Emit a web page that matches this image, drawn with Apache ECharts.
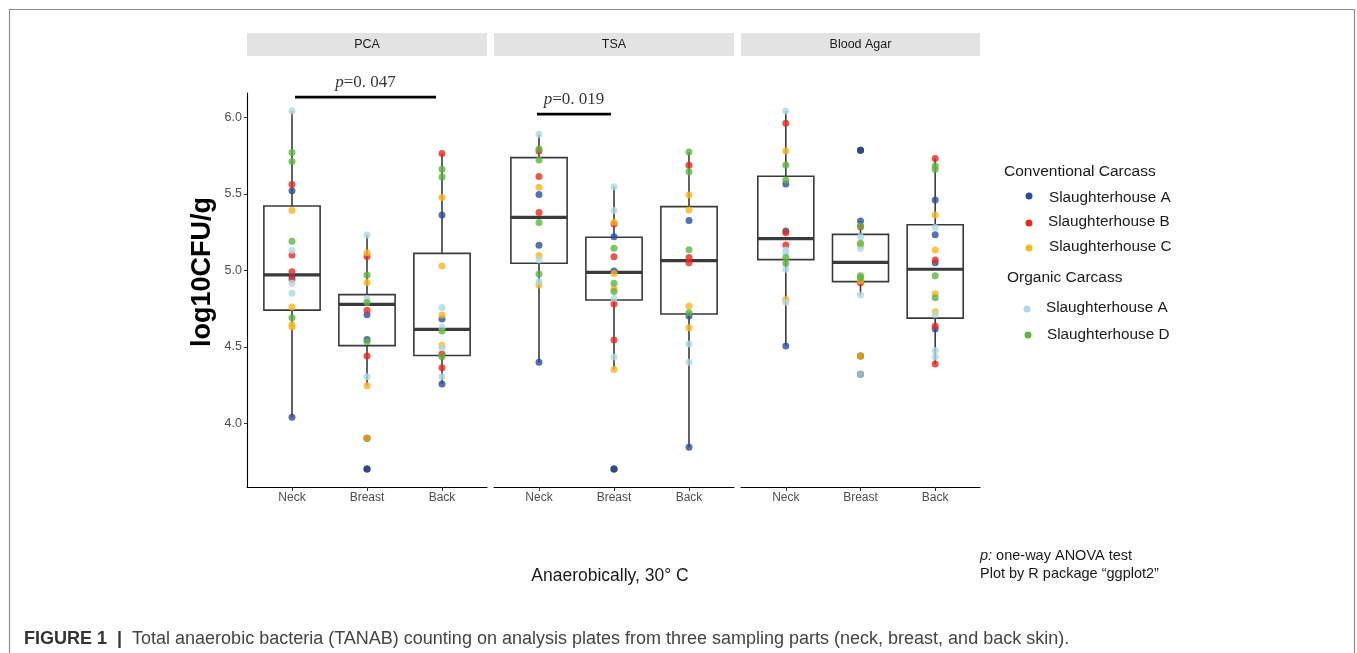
<!DOCTYPE html>
<html>
<head>
<meta charset="utf-8">
<script src="https://cdn.jsdelivr.net/npm/echarts@6/dist/echarts.min.js"></script>
<style>html,body{margin:0;padding:0;background:#fff;}#c{width:1357px;height:653px;}</style>
</head>
<body>
<div id="c"></div>
<script>
// ---------- data ----------
const panels = ['PCA', 'TSA', 'Blood Agar'];
const parts = ['Neck', 'Breast', 'Back'];
const groupNames = ['Conv. Slaughterhouse A', 'Conv. Slaughterhouse B', 'Conv. Slaughterhouse C', 'Org. Slaughterhouse A', 'Org. Slaughterhouse D'];
const groupColors = ['#2D4C9F', '#E8291F', '#FBB41A', '#ADD8E6', '#5DB53E'];
const yTicks = [4.0, 4.5, 5.0, 5.5, 6.0];

// box stats per part: [min, Q1, median, Q3, max]
const pcaBox = [[4.04, 4.74, 4.97, 5.42, 6.04], [4.246, 4.508, 4.778, 4.841, 5.231], [4.257, 4.444, 4.614, 5.111, 5.763]];
const tsaBox = [[4.399, 5.046, 5.346, 5.736, 5.889], [4.353, 4.806, 4.987, 5.216, 5.545], [3.845, 4.715, 5.063, 5.416, 5.773]];
const bloodBox = [[4.505, 5.070, 5.207, 5.614, 6.041], [4.839, 4.926, 5.052, 5.235, 5.322], [4.388, 4.688, 5.007, 5.298, 5.730]];

// outliers per part
const pcaOut = [[], [3.904, 3.702], []];
const tsaOut = [[], [3.702], []];
const bloodOut = [[], [5.784, 4.440, 4.322], []];

// points: per group -> [neck values, breast values, back values]
const pcaConvA = [[5.52, 4.96, 4.04], [4.71, 4.549, 3.702], [5.362, 4.682, 4.257]];
const pcaConvB = [[5.56, 5.10, 4.99, 4.94], [5.09, 4.74, 4.44], [5.763, 4.453, 4.364]];
const pcaConvC = [[5.39, 4.76, 4.645, 4.63], [5.115, 4.92, 4.246, 3.904], [5.475, 5.028, 4.708, 4.51]];
const pcaOrgA = [[6.04, 5.13, 4.915, 4.85], [5.231, 4.815, 4.305], [4.758, 4.627, 4.495, 4.305]];
const pcaOrgD = [[5.77, 5.71, 5.19, 4.69], [4.97, 4.79, 4.534], [5.66, 5.61, 4.603, 4.436]];

const tsaConvA = [[5.495, 5.163, 4.399], [5.22, 4.996, 3.702], [5.325, 4.702, 3.845]];
const tsaConvB = [[5.78, 5.612, 5.377], [5.303, 5.089, 4.78, 4.545], [5.686, 5.083, 5.05]];
const tsaConvC = [[5.542, 5.096, 4.904], [5.314, 4.98, 4.878, 4.353], [5.492, 5.394, 4.767, 4.625]];
const tsaOrgA = [[5.889, 5.068, 4.926], [5.545, 5.39, 4.817, 4.434], [4.519, 4.399]];
const tsaOrgD = [[5.793, 5.721, 5.312, 4.976], [5.144, 4.915, 4.861], [5.773, 5.643, 5.135, 4.723]];

const bloodConvA = [[5.564, 5.257, 4.505], [5.784, 5.322], [5.46, 5.233, 5.05, 4.617]];
const bloodConvB = [[5.961, 5.246, 5.166], [5.285, 4.919], [5.73, 5.068, 4.636, 4.388]];
const bloodConvC = [[5.78, 4.81], [5.161, 4.932, 4.44], [5.362, 5.133, 4.847, 4.73]];
const bloodOrgA = [[6.041, 5.133, 5.115, 5.007, 4.791], [5.22, 5.142, 4.839, 4.322], [5.279, 4.712, 4.477, 4.434]];
const bloodOrgD = [[5.688, 5.59, 5.083, 5.046], [5.29, 5.176, 4.965, 4.952], [5.682, 5.66, 4.965, 4.821]];

// significance brackets: [x start, x end, y, label]
const pcaBracket = [1.04, 2.92, 6.131, '=0. 047'];
const tsaBracket = [0.973, 1.96, 6.02, '=0. 019'];

// ---------- build ----------
const boxes = [pcaBox, tsaBox, bloodBox];
const outs = [pcaOut, tsaOut, bloodOut];
const points = [
  [pcaConvA, pcaConvB, pcaConvC, pcaOrgA, pcaOrgD],
  [tsaConvA, tsaConvB, tsaConvC, tsaOrgA, tsaOrgD],
  [bloodConvA, bloodConvB, bloodConvC, bloodOrgA, bloodOrgD]
];
const brackets = [pcaBracket, tsaBracket, null];

const SANS = 'Liberation Sans, Arial, sans-serif';
const gridLefts = [247, 494, 741];
const gridWidths = [240, 240, 239];
const TOP = 93, HEIGHT = 394;
const YMIN = 3.585, YMAX = 6.158;

const grids = [], xAxes = [], yAxes = [], series = [];
panels.forEach((p, i) => {
  grids.push({ left: gridLefts[i], top: TOP, width: gridWidths[i], height: HEIGHT, containLabel: false });
  xAxes.push({
    type: 'value', gridIndex: i, min: 0.4, max: 3.6,
    axisLine: { show: true, lineStyle: { color: '#000', width: 1.1 } },
    axisTick: { show: true, customValues: [1, 2, 3], length: 4, lineStyle: { color: '#333' } },
    axisLabel: { show: true, customValues: [1, 2, 3], formatter: v => parts[Math.round(v) - 1], color: '#4d4d4d', fontSize: 12, fontFamily: SANS, margin: 5 },
    splitLine: { show: false }
  });
  yAxes.push({
    type: 'value', gridIndex: i, min: YMIN, max: YMAX, show: i === 0,
    axisLine: { show: true, lineStyle: { color: '#000', width: 1.1 } },
    axisTick: { show: true, customValues: yTicks, length: 3, lineStyle: { color: '#333' } },
    axisLabel: { show: true, customValues: yTicks, formatter: v => v.toFixed(1), color: '#4d4d4d', fontSize: 12.5, fontFamily: SANS, margin: 5 },
    splitLine: { show: false }
  });
  // box plots
  series.push({
    type: 'custom', xAxisIndex: i, yAxisIndex: i, z: 2,
    encode: { x: 0, y: [1, 2, 3, 4, 5] },
    data: boxes[i].map((b, k) => [k + 1].concat(b)),
    renderItem: function (params, api) {
      const x = api.value(0);
      const lo = api.coord([x, api.value(1)]);
      const q1 = api.coord([x, api.value(2)]);
      const md = api.coord([x, api.value(3)]);
      const q3 = api.coord([x, api.value(4)]);
      const hi = api.coord([x, api.value(5)]);
      const w = api.size([0.75, 0])[0];
      const st = { stroke: '#3a3a3a', lineWidth: 1.6, fill: null };
      return {
        type: 'group', children: [
          { type: 'line', shape: { x1: lo[0], y1: lo[1], x2: q1[0], y2: q1[1] }, style: st },
          { type: 'line', shape: { x1: q3[0], y1: q3[1], x2: hi[0], y2: hi[1] }, style: st },
          { type: 'rect', shape: { x: q3[0] - w / 2, y: q3[1], width: w, height: q1[1] - q3[1] }, style: { stroke: '#3a3a3a', lineWidth: 1.6, fill: '#fff' } },
          { type: 'line', shape: { x1: md[0] - w / 2, y1: md[1], x2: md[0] + w / 2, y2: md[1] }, style: { stroke: '#3a3a3a', lineWidth: 3.2 } }
        ]
      };
    }
  });
  // outliers (black)
  const od = [];
  outs[i].forEach((arr, k) => arr.forEach(v => od.push([k + 1, v])));
  series.push({
    type: 'scatter', xAxisIndex: i, yAxisIndex: i, z: 3, symbolSize: 7, clip: false,
    itemStyle: { color: '#000' }, data: od, silent: true
  });
  // points per group
  points[i].forEach((g, gi) => {
    const d = [];
    g.forEach((arr, k) => arr.forEach(v => d.push([k + 1, v])));
    series.push({
      type: 'scatter', name: groupNames[gi], xAxisIndex: i, yAxisIndex: i, z: 4 + gi, symbolSize: 7, clip: false,
      itemStyle: { color: groupColors[gi], opacity: 0.8 }, data: d
    });
  });
  // significance bracket
  const br = brackets[i];
  if (br) {
    series.push({
      type: 'line', xAxisIndex: i, yAxisIndex: i, z: 10, symbol: 'none', silent: true,
      lineStyle: { color: '#000', width: 2.8 },
      data: [[br[0], br[2]], [br[1], br[2]]]
    });
    series.push({
      type: 'scatter', xAxisIndex: i, yAxisIndex: i, z: 10, symbolSize: 0, clip: false, silent: true,
      data: [[(br[0] + br[1]) / 2, br[2]]],
      label: {
        show: true, position: 'top', distance: 6,
        formatter: '{a|p}{b|' + br[3] + '}',
        rich: {
          a: { fontFamily: 'Liberation Serif, DejaVu Serif, serif', fontStyle: 'italic', fontSize: 17, color: '#000' },
          b: { fontFamily: 'Liberation Serif, DejaVu Serif, serif', fontSize: 17, color: '#000' }
        }
      }
    });
  }
});

// ---------- decorations ----------
const graphics = [];
graphics.push({ type: 'rect', shape: { x: 9.5, y: 9.5, width: 1345, height: 660 }, style: { fill: null, stroke: '#8c8c8c', lineWidth: 1.2 }, silent: true });
panels.forEach((p, i) => {
  graphics.push({ type: 'rect', shape: { x: gridLefts[i], y: 33, width: gridWidths[i], height: 23 }, style: { fill: '#E3E3E3' } });
  graphics.push({ type: 'text', x: gridLefts[i] + gridWidths[i] / 2, y: 44.5, style: { text: p, fill: '#1a1a1a', font: '12.5px ' + SANS, textAlign: 'center', textVerticalAlign: 'middle' } });
});
graphics.push({ type: 'text', x: 203, y: 272, rotation: Math.PI / 2, style: { text: 'log10CFU/g', fill: '#000', font: 'bold 27px ' + SANS, textAlign: 'center', textVerticalAlign: 'middle' } });

// legend
const legendItems = [
  { head: 'Conventional Carcass', hx: 1004, hy: 172 },
  { dot: 0, label: 'Slaughterhouse A', dx: 1029, dy: 196, tx: 1049, ty: 198 },
  { dot: 1, label: 'Slaughterhouse B', dx: 1029, dy: 223, tx: 1048, ty: 222 },
  { dot: 2, label: 'Slaughterhouse C', dx: 1029, dy: 248, tx: 1049, ty: 247 },
  { head: 'Organic Carcass', hx: 1007, hy: 278 },
  { dot: 3, label: 'Slaughterhouse A', dx: 1027, dy: 309, tx: 1046, ty: 308 },
  { dot: 4, label: 'Slaughterhouse D', dx: 1028, dy: 335, tx: 1047, ty: 335 }
];
legendItems.forEach(it => {
  if (it.head) {
    graphics.push({ type: 'text', x: it.hx, y: it.hy, style: { text: it.head, fill: '#1a1a1a', font: '15.5px ' + SANS, textVerticalAlign: 'middle' } });
  } else {
    graphics.push({ type: 'circle', shape: { cx: it.dx, cy: it.dy, r: 3.5 }, style: { fill: groupColors[it.dot] } });
    graphics.push({ type: 'text', x: it.tx, y: it.ty, style: { text: it.label, fill: '#1a1a1a', font: '15.3px ' + SANS, textVerticalAlign: 'middle' } });
  }
});

graphics.push({ type: 'text', x: 610, y: 576, style: { text: 'Anaerobically, 30° C', fill: '#1a1a1a', font: '17.5px ' + SANS, textAlign: 'center', textVerticalAlign: 'middle' } });
graphics.push({ type: 'text', x: 980, y: 556, style: { text: '{i|p:} one-way ANOVA test', rich: { i: { fontStyle: 'italic', fontSize: 14.5, fontFamily: SANS, fill: '#1a1a1a' } }, fill: '#1a1a1a', font: '14.5px ' + SANS, textVerticalAlign: 'middle' } });
graphics.push({ type: 'text', x: 980, y: 574, style: { text: 'Plot by R package \u201Cggplot2\u201D', fill: '#1a1a1a', font: '14.5px ' + SANS, textVerticalAlign: 'middle' } });
graphics.push({ type: 'text', x: 24, y: 639, style: { text: '{b|FIGURE 1  |}  Total anaerobic bacteria (TANAB) counting on analysis plates from three sampling parts (neck, breast, and back skin).', rich: { b: { fontWeight: 'bold', fontSize: 18, fontFamily: SANS, fill: '#333' } }, fill: '#444', font: '18px ' + SANS, textVerticalAlign: 'middle' } });

const chart = echarts.init(document.getElementById('c'), null, { renderer: 'canvas' });
chart.setOption({
  animation: false,
  backgroundColor: '#fff',
  grid: grids, xAxis: xAxes, yAxis: yAxes, series: series,
  graphic: graphics
});
</script>
</body>
</html>
